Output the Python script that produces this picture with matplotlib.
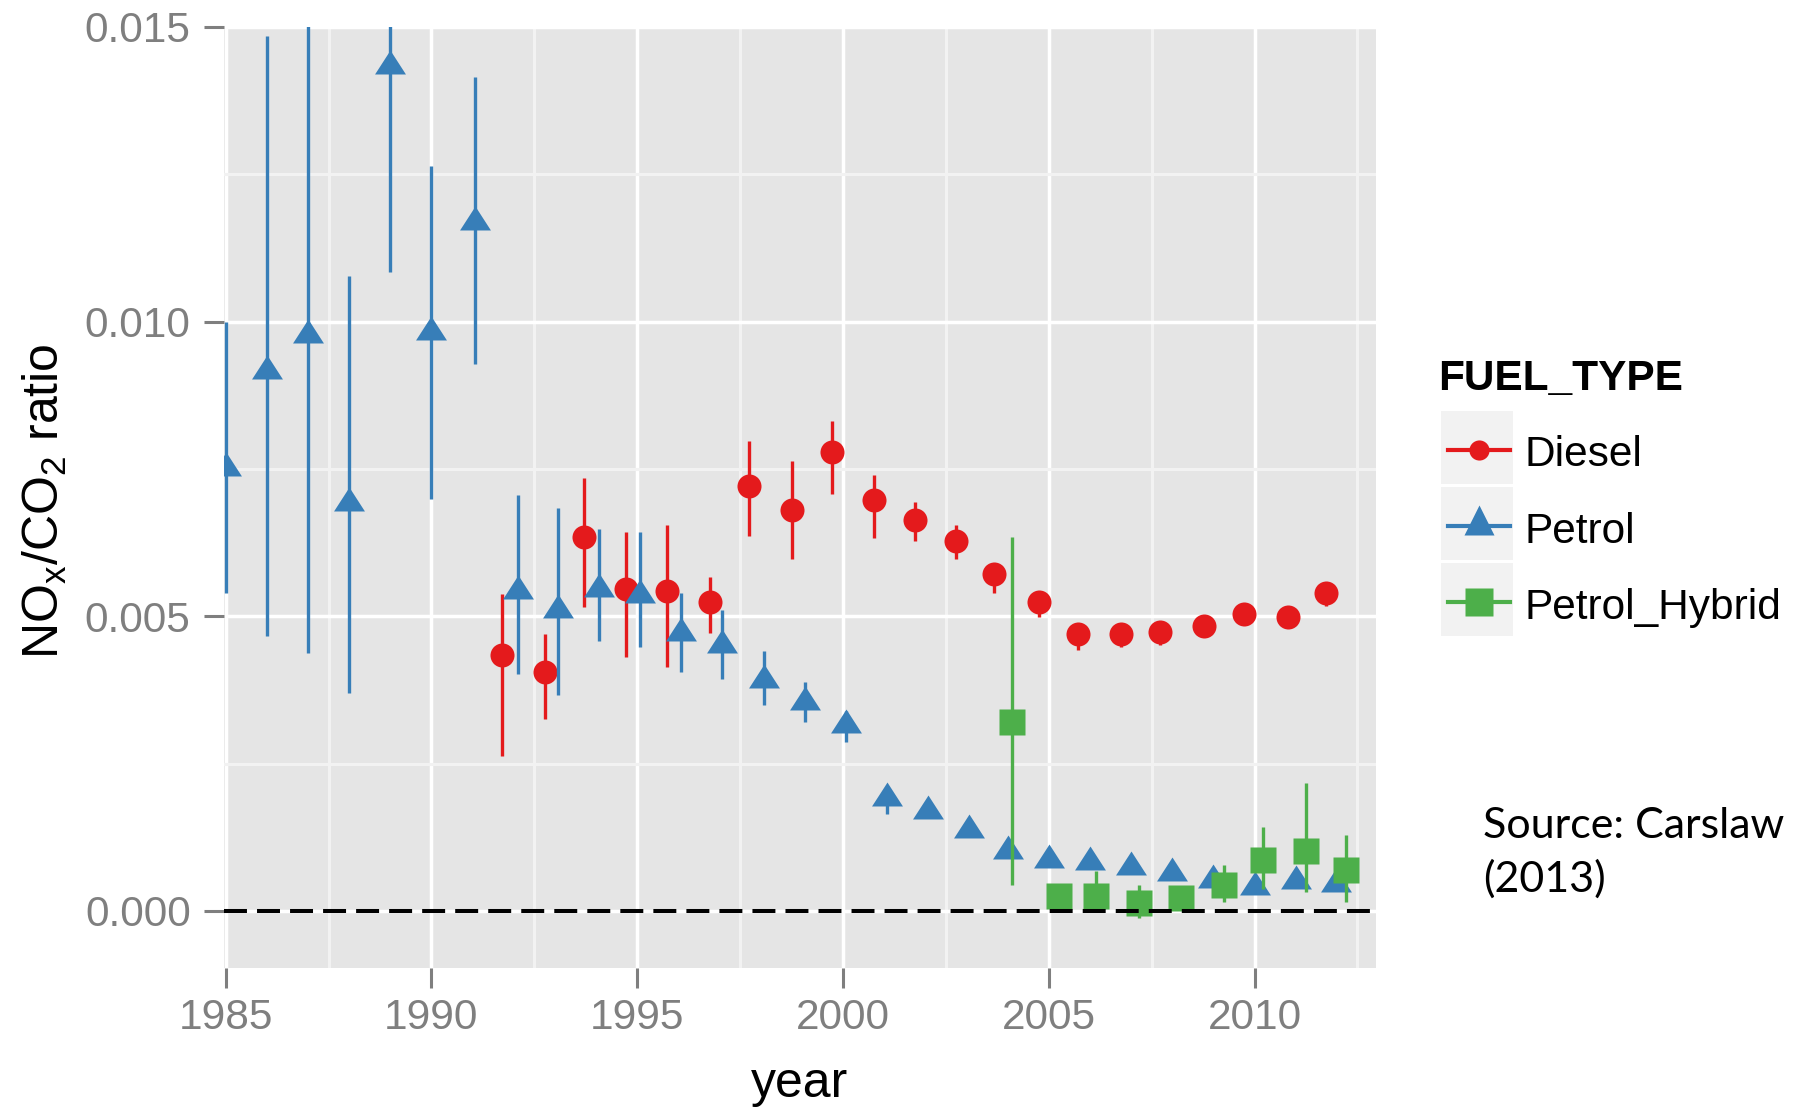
import matplotlib
matplotlib.use("Agg")
import matplotlib.pyplot as plt
from matplotlib.patches import Rectangle

plt.rcParams['font.family'] = ['Liberation Sans', 'DejaVu Sans']
plt.rcParams['mathtext.fontset'] = 'custom'
plt.rcParams['mathtext.rm'] = 'Liberation Sans'

# values (x includes the dodge seen in the chart)
diesel_x = [1991.72, 1992.75, 1993.7, 1994.72, 1995.73, 1996.77, 1997.72, 1998.77,
            1999.73, 2000.76, 2001.75, 2002.75, 2003.68, 2004.75, 2005.7, 2006.75,
            2007.7, 2008.77, 2009.75, 2010.8, 2011.74]
diesel_val = [0.00434, 0.00405, 0.00634, 0.00546, 0.00542, 0.00524, 0.00721, 0.00681,
              0.00779, 0.00697, 0.00664, 0.00628, 0.00572, 0.00524, 0.00469, 0.00469,
              0.00474, 0.00484, 0.00504, 0.00498, 0.00539]
diesel_lo = [0.00263, 0.00326, 0.00516, 0.0043, 0.00414, 0.00471, 0.00636, 0.00597,
             0.00707, 0.00632, 0.00627, 0.00597, 0.00539, 0.00498, 0.00442, 0.00447,
             0.00452, 0.00466, 0.00488, 0.00482, 0.00518]
diesel_hi = [0.00537, 0.00469, 0.00735, 0.00643, 0.00654, 0.00567, 0.00797, 0.00763,
             0.00832, 0.00739, 0.00694, 0.00654, 0.0059, 0.00543, 0.00485, 0.00485,
             0.0049, 0.00502, 0.0052, 0.00514, 0.00558]

petrol_x = [1985.0, 1986.0, 1987.0, 1988.0, 1989.0, 1990.0, 1991.05, 1992.1, 1993.08,
            1994.07, 1995.06, 1996.07, 1997.07, 1998.07, 1999.07, 2000.07, 2001.07,
            2002.07, 2003.07, 2004.0, 2005.0, 2006.0, 2007.0, 2008.0, 2009.0, 2010.02,
            2011.0, 2011.99]
petrol_val = [0.00751, 0.00917, 0.00978, 0.00692, 0.01434, 0.00982, 0.01169, 0.00542,
              0.00511, 0.00547, 0.00536, 0.00471, 0.00451, 0.00391, 0.00355, 0.00316,
              0.00192, 0.00169, 0.00137, 0.00102, 0.00087, 0.00083, 0.00074, 0.00065,
              0.00053, 0.00041, 0.00051, 0.00045]
petrol_lo = [0.00539, 0.00467, 0.00438, 0.00369, 0.01084, 0.00699, 0.00928, 0.00402,
             0.00367, 0.00458, 0.00447, 0.00406, 0.00394, 0.00349, 0.00321, 0.00286,
             0.00164, 0.0016, 0.00132, 0.001, 0.00086, 0.00082, 0.00075, 0.00066,
             0.00054, 0.00042, 0.00052, 0.00046]
petrol_hi = [0.0100, 0.01485, 0.0155, 0.01078, 0.0158, 0.01264, 0.01415, 0.00706,
             0.00683, 0.00648, 0.00643, 0.00539, 0.0051, 0.00441, 0.00389, 0.0034,
             0.0021, 0.0019, 0.00152, 0.00118, 0.00101, 0.00098, 0.00087, 0.00078,
             0.00066, 0.00054, 0.00064, 0.00058]

hybrid_x = [2004.1, 2005.25, 2006.15, 2007.2, 2008.2, 2009.26, 2010.2, 2011.25, 2012.23]
hybrid_val = [0.0032, 0.00026, 0.00026, 0.00014, 0.00022, 0.00044, 0.00087, 0.00101, 0.00069]
hybrid_lo = [0.00044, 0.00018, 0.0001, -0.00013, 0.00015, 0.00015, 0.00037, 0.00032, 0.00015]
hybrid_hi = [0.00635, 0.0003, 0.00067, 0.00044, 0.00028, 0.00077, 0.00143, 0.00217, 0.00128]

fuel_types = ['Diesel', 'Petrol', 'Petrol_Hybrid']
colors = ['#E41A1C', '#377EB8', '#4DAF4A']

x_major = [1985, 1990, 1995, 2000, 2005, 2010]
x_minor = [1987.5, 1992.5, 1997.5, 2002.5, 2007.5, 2012.5]
y_major = [0.0, 0.005, 0.010, 0.015]
y_minor = [0.0025, 0.0075, 0.0125]
y_labels = ['0.000', '0.005', '0.010', '0.015']

# triangle with its centroid on the point, a bit flatter than matplotlib's '^'
tri = [(-1, -0.517), (1, -0.517), (0, 1.033)]

W, H = 1793, 1108
fig = plt.figure(figsize=(W / 100, H / 100), dpi=100)
ax = fig.add_axes([224 / W, 1 - 967.7 / H, 1152 / W, 940.7 / H])
ax.set_facecolor('#E5E5E5')
for s in ax.spines.values():
    s.set_visible(False)

ax.set_xlim(1984.96, 2012.95)
ax.set_ylim(-0.000965, 0.01497)
ax.set_xticks(x_major)
ax.set_xticks(x_minor, minor=True)
ax.set_yticks(y_major)
ax.set_yticklabels(y_labels)
ax.set_yticks(y_minor, minor=True)
ax.grid(which='major', color='white', lw=2.5)
ax.grid(which='minor', color='#F2F2F2', lw=2.2)
ax.set_axisbelow(True)
ax.tick_params(which='major', length=14.5, width=2.2, color='#7F7F7F',
               labelcolor='#7F7F7F', labelsize=30.5)
ax.tick_params(axis='y', pad=9.5)
ax.tick_params(axis='x', pad=7.5)
ax.tick_params(which='minor', length=0)

series = [
    (diesel_x, diesel_val, diesel_lo, diesel_hi, 'o', 17.3),
    (petrol_x, petrol_val, petrol_lo, petrol_hi, tri, 23),
    (hybrid_x, hybrid_val, hybrid_lo, hybrid_hi, 's', 19.4),
]
for i, (x, v, lo, hi, mk, ms) in enumerate(series):
    ax.vlines(x, lo, hi, color=colors[i], lw=2.4, zorder=3 + i)
    ax.plot(x, v, ls='none', marker=mk, ms=ms, mec='none', color=colors[i], zorder=3 + i)

ax.axhline(0, color='black', lw=2.9, dashes=(5.7, 2.5), zorder=10)

fig.text(45 / W, 1 - 501 / H, r'NO$_\mathrm{x}$/CO$_\mathrm{2}$ ratio', rotation=90,
         ha='center', va='center', fontsize=36)
fig.text(800 / W, 1 - 1096.7 / H, 'year', ha='center', va='baseline', fontsize=36)

# legend and note, drawn in pixel coordinates
lax = fig.add_axes([0, 0, 1, 1])
lax.set_xlim(0, W)
lax.set_ylim(H, 0)
lax.axis('off')

lax.text(1438, 390, 'FUEL_TYPE', fontweight='bold', fontsize=30.5, va='baseline')
key_tops = [411, 487, 563]
key_lines = [450, 526, 602]
key_base = [466, 543, 619]
key_marks = [('o', 14.5, 0), ('^', 22, -6), ('s', 20, 0)]
for i, name in enumerate(fuel_types):
    lax.add_patch(Rectangle((1441, key_tops[i]), 72, 73, fc='#F2F2F2', ec='none'))
    lax.plot([1448, 1510], [key_lines[i], key_lines[i]], color=colors[i], lw=3)
    mk, ms, dy = key_marks[i]
    lax.plot([1479], [key_lines[i] + dy], marker=mk, ms=ms, mec='none', color=colors[i])
    lax.text(1524, key_base[i], name, fontsize=30.5, va='baseline')

lax.text(1483, 838, 'Source: Carslaw', family=['Lato', 'DejaVu Sans'], fontsize=31, va='baseline')
lax.text(1483, 892, '(2013)', family=['Lato', 'DejaVu Sans'], fontsize=31, va='baseline')

fig.savefig('out.png', dpi=100)
